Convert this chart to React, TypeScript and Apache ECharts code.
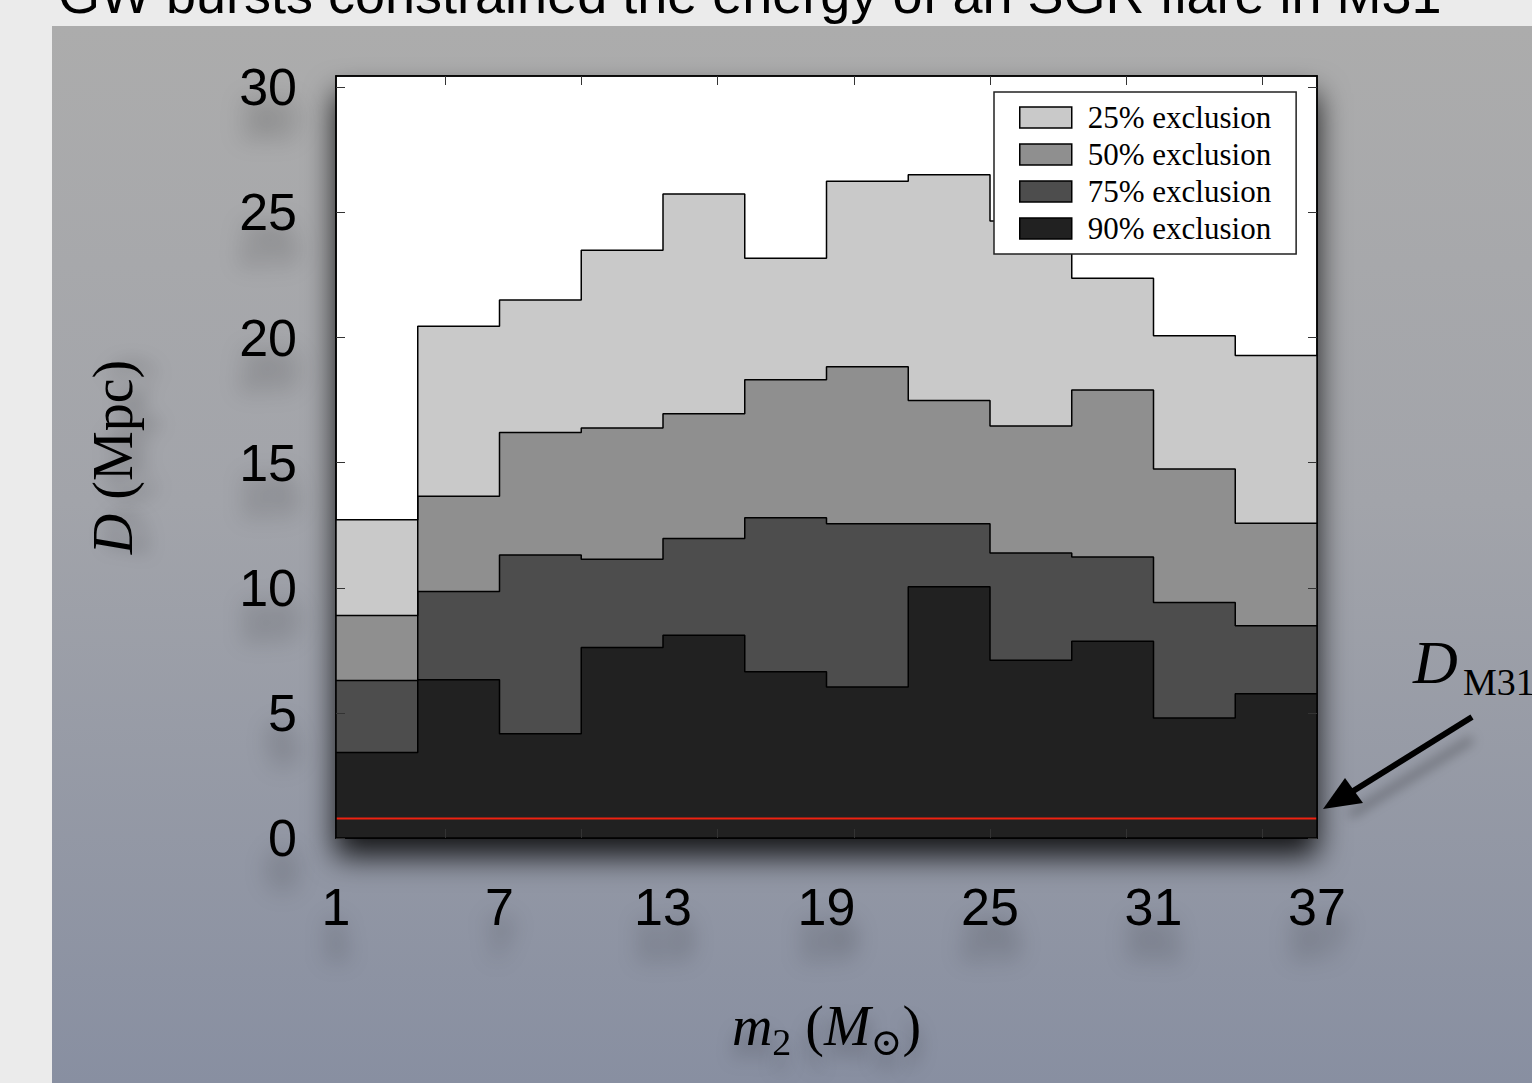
import React, { useEffect, useRef } from "react";
import * as echarts from "echarts";

// ---- data ----
const titleText = "GW bursts constrained the energy of an SGR flare in M31";
const binEdges = [1, 4, 7, 10, 13, 16, 19, 22, 25, 28, 31, 34, 37];
const excl25 = [12.72, 20.45, 21.5, 23.49, 25.73, 23.17, 26.24, 26.5, 24.66, 22.37, 20.07, 19.28];
const excl50 = [8.89, 13.66, 16.2, 16.38, 16.95, 18.31, 18.83, 17.48, 16.46, 17.9, 14.75, 12.58];
const excl75 = [6.29, 9.85, 11.31, 11.14, 11.97, 12.8, 12.56, 12.56, 11.39, 11.23, 9.41, 8.48];
const excl90 = [3.42, 6.32, 4.17, 7.61, 8.1, 6.64, 6.03, 10.04, 7.1, 7.86, 4.8, 5.76];
const dM31 = 0.78;
const seriesNames = ["25% exclusion", "50% exclusion", "75% exclusion", "90% exclusion"];
const seriesValues = [excl25, excl50, excl75, excl90];
const xLabelValues = [1, 7, 13, 19, 25, 31, 37];
const xTickValues = [5, 10, 15, 20, 25, 30, 35];
const yTickValues = [0, 5, 10, 15, 20, 25, 30];
const xMin = 1;
const xMax = 37;
const yMin = 0;
const yMax = 30.45;

const fills = ["#c9c9c9", "#8f8f8f", "#4d4d4d", "#212121"];

function stepData(vals: number[]) {
  return binEdges.map((e, i) => [e, vals[Math.min(i, vals.length - 1)]]);
}

const tickLabelStyle = {
  fontFamily: "'Liberation Sans', Arial, sans-serif",
  fontSize: 52,
  color: "#000",
  textShadowColor: "rgba(0,0,0,0.42)",
  textShadowBlur: 24,
  textShadowOffsetY: 32,
};

const nameShadow = {
  textShadowColor: "rgba(0,0,0,0.3)",
  textShadowBlur: 18,
  textShadowOffsetY: 14,
};

export default function App() {
  const ref = useRef<HTMLDivElement>(null);
  useEffect(() => {
    const chart = echarts.init(ref.current!, undefined, { renderer: "svg" });
    const serif = "'Liberation Serif', 'DejaVu Serif', serif";
    const option: any = {
      animation: false,
      grid: {
        left: 336,
        top: 76,
        width: 981,
        height: 762,
        show: true,
        backgroundColor: "#ffffff",
        borderColor: "#000",
        borderWidth: 1.5,
        shadowBlur: 30,
        shadowColor: "rgba(0,0,0,0.85)",
        shadowOffsetY: 18,
      },
      legend: {
        show: true,
        orient: "vertical",
        left: 994,
        top: 92,
        padding: [10, 25, 10, 25],
        itemWidth: 52,
        itemHeight: 21,
        itemGap: 6,
        backgroundColor: "#fff",
        borderColor: "#222",
        borderWidth: 1.5,
        selectedMode: false,
        icon: "rect",
        textStyle: {
          fontFamily: serif,
          fontSize: 31,
          color: "#000",
          padding: [0, 0, 0, 11],
        },
        data: seriesNames.map((n, i) => ({
          name: n,
          icon: "rect",
          itemStyle: { color: fills[i], borderColor: "#000", borderWidth: 1.5 },
        })),
      },
      xAxis: [
        {
          type: "value",
          min: xMin,
          max: xMax,
          position: "bottom",
          z: 5,
          axisLine: { show: true, onZero: false, lineStyle: { color: "#000", width: 1.5 } },
          splitLine: { show: false },
          axisTick: {
            show: true,
            inside: true,
            length: 9,
            customValues: xTickValues,
            lineStyle: { color: "#333", width: 1 },
          },
          axisLabel: { show: true, customValues: xLabelValues, margin: 43, ...tickLabelStyle },
          name: "{i|m}{s|2} ({i|M}{s|⊙})",
          nameLocation: "middle",
          nameGap: 160,
          nameTextStyle: {
            fontFamily: serif,
            fontSize: 56,
            lineHeight: 56,
            color: "#000",
            ...nameShadow,
            rich: {
              i: { fontFamily: serif, fontStyle: "italic", fontSize: 56, lineHeight: 56, color: "#000", ...nameShadow },
              s: {
                fontFamily: serif,
                fontSize: 38,
                lineHeight: 38,
                padding: [32, 0, 0, 0],
                color: "#000",
                ...nameShadow,
              },
            },
          },
        },
        {
          type: "value",
          min: xMin,
          max: xMax,
          position: "top",
          z: 5,
          axisLine: { show: true, onZero: false, lineStyle: { color: "#000", width: 1.5 } },
          splitLine: { show: false },
          axisTick: {
            show: true,
            inside: true,
            length: 9,
            customValues: xTickValues,
            lineStyle: { color: "#333", width: 1 },
          },
          axisLabel: { show: false },
        },
      ],
      yAxis: [
        {
          type: "value",
          min: yMin,
          max: yMax,
          position: "left",
          z: 5,
          axisLine: { show: true, onZero: false, lineStyle: { color: "#000", width: 1.5 } },
          splitLine: { show: false },
          axisTick: {
            show: true,
            inside: true,
            length: 9,
            customValues: yTickValues,
            lineStyle: { color: "#333", width: 1 },
          },
          axisLabel: { show: true, customValues: yTickValues, margin: 39, ...tickLabelStyle },
          name: "{i|D} (Mpc)",
          nameLocation: "middle",
          nameRotate: 90,
          nameGap: 195,
          nameTextStyle: {
            fontFamily: serif,
            fontSize: 56,
            lineHeight: 56,
            color: "#000",
            ...nameShadow,
            rich: {
              i: { fontFamily: serif, fontStyle: "italic", fontSize: 56, lineHeight: 56, color: "#000", ...nameShadow },
            },
          },
        },
        {
          type: "value",
          min: yMin,
          max: yMax,
          position: "right",
          z: 5,
          axisLine: { show: true, onZero: false, lineStyle: { color: "#000", width: 1.5 } },
          splitLine: { show: false },
          axisTick: {
            show: true,
            inside: true,
            length: 9,
            customValues: yTickValues,
            lineStyle: { color: "#333", width: 1 },
          },
          axisLabel: { show: false },
        },
      ],
      series: [
        ...seriesNames.map((n, i) => ({
          name: n,
          type: "line",
          xAxisIndex: 0,
          yAxisIndex: 0,
          step: "end",
          symbol: "none",
          showSymbol: false,
          data: stepData(seriesValues[i]),
          itemStyle: { color: fills[i] },
          lineStyle: { color: "#000", width: 1.5 },
          areaStyle: { color: fills[i], opacity: 1 },
          emphasis: { disabled: true },
          silent: true,
        })),
        {
          name: "D_M31",
          type: "line",
          xAxisIndex: 0,
          yAxisIndex: 0,
          symbol: "none",
          data: [
            [xMin, dM31],
            [xMax, dM31],
          ],
          lineStyle: { color: "#ee2211", width: 2.2 },
          itemStyle: { color: "#ee2211" },
          silent: true,
          z: 3,
        },
      ],
      graphic: [
        {
          type: "text",
          x: 58,
          y: 21,
          silent: true,
          style: {
            text: titleText,
            font: "54px 'Liberation Sans', Arial, sans-serif",
            fill: "#000",
            textAlign: "left",
            textVerticalAlign: "bottom",
          },
        },
        {
          type: "text",
          x: 1413,
          y: 693,
          silent: true,
          style: {
            text: "D",
            font: "italic 62px 'Liberation Serif', serif",
            fill: "#000",
            textAlign: "left",
            textVerticalAlign: "bottom",
          },
        },
        {
          type: "text",
          x: 1463,
          y: 701,
          silent: true,
          style: {
            text: "M31",
            font: "38px 'Liberation Serif', serif",
            fill: "#000",
            textAlign: "left",
            textVerticalAlign: "bottom",
          },
        },
        {
          type: "line",
          silent: true,
          shape: { x1: 1472, y1: 717, x2: 1350, y2: 793 },
          style: {
            stroke: "#000",
            lineWidth: 6,
            shadowBlur: 12,
            shadowColor: "rgba(0,0,0,0.35)",
            shadowOffsetY: 22,
          },
        },
        {
          type: "polygon",
          silent: true,
          shape: {
            points: [
              [1323, 809],
              [1345, 778],
              [1363, 803],
            ],
          },
          style: { fill: "#000" },
        },
      ],
    };
    chart.setOption(option);
    return () => chart.dispose();
  }, []);
  return (
    <div
      style={{
        position: "fixed",
        left: 0,
        top: 0,
        width: 1532,
        height: 1083,
        background: "#ebebeb",
        overflow: "hidden",
      }}
    >
      <div
        style={{
          position: "absolute",
          left: 52,
          top: 26,
          right: 0,
          bottom: 0,
          background: "linear-gradient(to bottom, #acacac 0%, #a2a4aa 45%, #888fa1 100%)",
        }}
      />
      <div ref={ref} style={{ position: "absolute", left: 0, top: 0, width: 1532, height: 1083 }} />
    </div>
  );
}
